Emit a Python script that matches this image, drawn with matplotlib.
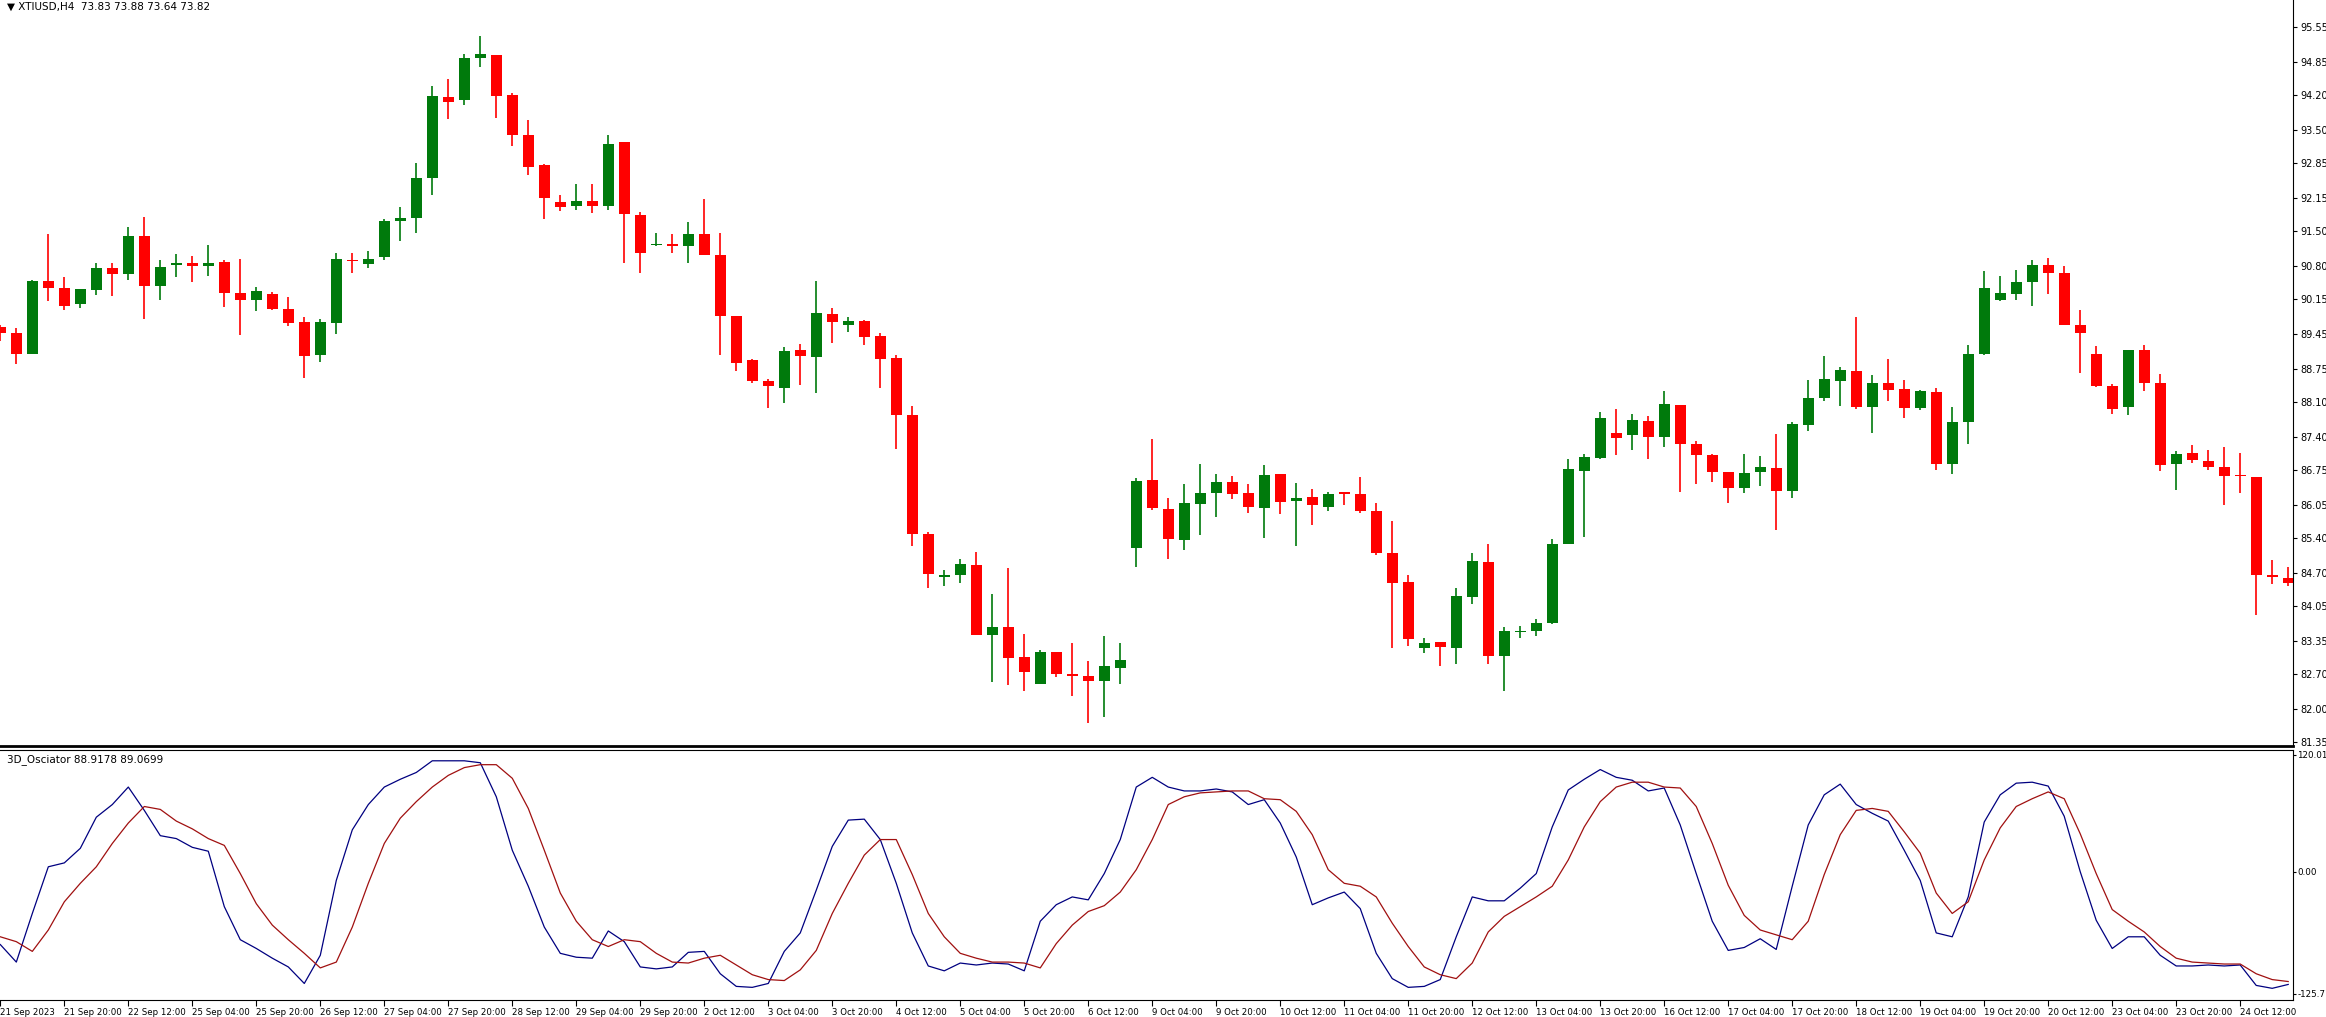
import matplotlib
matplotlib.use("Agg")
import matplotlib.pyplot as plt
import numpy as np

opens = [89.60,89.48,89.05,90.51,90.37,90.06,90.32,90.77,90.64,91.41,90.41,90.83,90.87,90.81,90.88,90.26,90.14,90.25,89.95,89.70,
         89.03,89.68,90.92,90.85,90.98,91.70,91.75,92.55,94.17,94.10,94.93,95.00,94.20,93.41,92.81,92.08,91.99,92.10,92.00,93.27,
         91.82,91.22,91.23,91.20,91.45,91.02,89.82,88.94,88.52,88.39,89.13,88.99,89.85,89.63,89.71,89.41,88.98,87.84,85.49,84.63,
         84.66,84.87,83.48,83.64,83.03,82.50,83.14,82.71,82.66,82.56,82.82,85.21,86.55,85.98,85.37,86.07,86.29,86.51,86.30,85.99,
         86.67,86.14,86.21,86.02,86.30,86.28,85.94,85.11,84.52,83.21,83.33,83.21,84.23,84.93,83.05,83.53,83.56,83.72,85.29,86.73,
         87.00,87.49,87.44,87.73,87.40,88.04,87.27,87.05,86.71,86.39,86.71,86.80,86.34,87.64,88.18,88.53,88.72,88.01,88.48,88.36,
         87.98,88.30,86.87,87.71,89.06,90.14,90.25,90.49,90.82,90.66,89.63,89.05,88.42,88.00,89.13,88.49,86.87,87.09,86.94,86.81,
         86.65,86.61,84.65,84.61]
highs = [89.63,89.58,90.53,91.44,90.59,90.35,90.87,90.87,91.58,91.78,90.92,91.05,91.00,91.23,90.92,90.95,90.39,90.28,90.18,89.79,
         89.75,91.07,91.06,91.10,91.74,91.98,92.85,94.38,94.52,95.01,95.38,95.00,94.24,93.70,92.84,92.21,92.43,92.43,93.41,93.27,
         91.88,91.47,91.44,91.67,92.14,91.47,89.82,88.96,88.57,89.20,89.25,90.51,89.97,89.80,89.73,89.47,89.04,88.03,85.53,84.77,
         84.98,85.12,84.28,84.81,83.50,83.17,83.14,83.31,82.96,83.45,83.32,86.59,87.37,86.19,86.48,86.87,86.67,86.64,86.48,86.86,
         86.67,86.50,86.38,86.32,86.30,86.61,86.10,85.73,84.66,83.42,83.33,84.40,85.11,85.28,83.63,83.65,83.79,85.38,86.97,87.07,
         87.90,87.97,87.86,87.83,88.33,88.04,87.33,87.07,86.71,87.07,87.04,87.46,87.71,88.54,89.01,88.79,89.80,88.65,88.96,88.54,
         88.35,88.39,88.01,89.23,90.70,90.60,90.72,90.92,90.96,90.80,89.93,89.22,88.46,89.13,89.23,88.66,87.14,87.25,87.16,87.21,
         87.09,86.61,84.97,84.83]
lows = [89.32,88.85,89.05,90.12,89.94,89.98,90.22,90.20,90.52,89.76,90.13,90.58,90.48,90.61,90.00,89.43,89.92,89.93,89.61,88.58,
        88.89,89.45,90.66,90.77,90.93,91.31,91.47,92.22,93.73,94.01,94.75,93.75,93.18,92.62,91.73,91.89,91.91,91.85,91.91,90.86,
        90.67,91.21,91.07,90.87,91.02,89.03,88.71,88.49,87.99,88.09,88.44,88.28,89.27,89.50,89.23,88.38,87.18,85.24,84.40,84.45,
        84.50,83.47,82.55,82.49,82.36,82.50,82.65,82.27,81.72,81.84,82.50,84.82,85.95,84.99,85.16,85.47,85.81,86.17,85.89,85.41,
        85.87,85.24,85.66,85.94,86.06,85.90,85.07,83.22,83.26,83.11,82.86,82.90,84.10,82.90,82.36,83.41,83.45,83.69,85.28,85.43,
        86.97,87.05,87.16,86.97,87.20,86.32,86.47,86.51,86.09,86.30,86.43,85.57,86.19,87.52,88.13,88.03,87.97,87.48,88.13,87.78,
        87.94,86.76,86.67,87.26,89.04,90.12,90.14,90.01,90.25,89.63,88.68,88.41,87.86,87.84,88.32,86.73,86.35,86.90,86.76,86.05,
        86.29,83.88,84.48,84.45]
closes = [89.48,89.05,90.51,90.36,90.02,90.35,90.77,90.64,91.41,90.40,90.79,90.85,90.81,90.87,90.26,90.14,90.30,89.96,89.68,89.01,
          89.70,90.95,90.90,90.94,91.69,91.76,92.55,94.19,94.06,94.93,95.01,94.19,93.40,92.78,92.15,91.97,92.10,92.00,93.23,91.83,
          91.07,91.24,91.21,91.44,91.02,89.82,88.87,88.52,88.42,89.11,89.01,89.87,89.69,89.71,89.40,88.95,87.85,85.48,84.69,84.66,
          84.88,83.47,83.64,83.01,82.74,83.14,82.70,82.66,82.56,82.85,82.98,86.53,85.99,85.39,86.09,86.30,86.51,86.27,86.01,86.66,
          86.11,86.19,86.06,86.27,86.28,85.93,85.11,84.50,83.39,83.32,83.23,84.25,84.95,83.05,83.56,83.55,83.71,85.29,86.78,87.02,
          87.78,87.38,87.75,87.40,88.06,87.27,87.05,86.72,86.39,86.70,86.81,86.34,87.67,88.19,88.57,88.74,88.01,88.49,88.35,87.98,
          88.32,86.87,87.71,89.06,90.36,90.27,90.49,90.82,90.66,89.63,89.48,88.43,87.97,89.13,88.49,86.86,87.08,86.95,86.82,86.63,
          86.63,84.67,84.63,84.50]

osc_fast = [-75,-93,-43,5,9,24,56,69,87,63,37,34,25,21,-36,-70,-79,-89,-98,-115,
            -86,-9,43,69,87,95,102,114,114,114,112,77,22,-15,-57,-84,-88,-89,-61,-72,
            -98,-100,-98,-83,-82,-105,-118,-119,-115,-82,-63,-19,26,53,54,33,-12,-63,-97,-102,
            -94,-96,-94,-95,-102,-51,-34,-26,-29,-2,33,87,97,
            87,83,83,85,82,69,74,50,15,-34,-27,-21,-38,-84,-110,-119,-118,-111,-67,-26,
            -30,-30,-17,-2,46,84,95,105,97,94,83,86,48,-2,-51,-81,-78,-69,-80,-15,
            48,79,90,69,60,52,22,-9,-63,-67,-26,51,79,91,92,88,57,0,-50,-79,
            -67,-67,-86,-97,-97,-96,-97,-96,-117,-120,-116]
osc_slow = [-67,-72,-82,-60,-31,-12,5,29,50,67,64,52,44,34,27,-2,-33,-55,-70,-84,
            -99,-93,-57,-12,29,55,72,87,99,107,110,110,96,65,22,-22,-51,-70,-77,-70,
            -72,-84,-93,-94,-89,-86,-96,-106,-111,-112,-101,-81,-43,-12,17,33,33,-3,-43,-67,
            -84,-89,-93,-93,-94,-99,-74,-55,-41,-35,-21,2,33,
            69,77,81,82,83,83,75,74,62,38,2,-12,-15,-26,-53,-77,-98,-106,-110,-94,
            -62,-46,-36,-26,-15,12,46,72,87,92,92,87,86,67,29,-14,-45,-60,-65,-70,
            -51,-3,38,63,65,62,41,19,-22,-43,-31,12,45,67,75,82,75,39,-2,-39,
            -51,-62,-77,-89,-93,-94,-95,-95,-105,-111,-113]

date_labels = ["21 Sep 2023","21 Sep 20:00","22 Sep 12:00","25 Sep 04:00","25 Sep 20:00","26 Sep 12:00",
               "27 Sep 04:00","27 Sep 20:00","28 Sep 12:00","29 Sep 04:00","29 Sep 20:00","2 Oct 12:00",
               "3 Oct 04:00","3 Oct 20:00","4 Oct 12:00","5 Oct 04:00","5 Oct 20:00","6 Oct 12:00",
               "9 Oct 04:00","9 Oct 20:00","10 Oct 12:00","11 Oct 04:00","11 Oct 20:00","12 Oct 12:00",
               "13 Oct 04:00","13 Oct 20:00","16 Oct 12:00","17 Oct 04:00","17 Oct 20:00","18 Oct 12:00",
               "19 Oct 04:00","19 Oct 20:00","20 Oct 12:00","23 Oct 04:00","23 Oct 20:00","24 Oct 12:00"]
price_ticks = [95.55,94.85,94.20,93.50,92.85,92.15,91.50,90.80,90.15,89.45,88.75,88.10,87.40,86.75,86.05,
               85.40,84.70,84.05,83.35,82.70,82.00,81.35]
osc_ticks = [120.01,0.00,-125.71]

plt.rcParams['font.family'] = ['DejaVu Sans']

W, H = 2326, 1017
fig = plt.figure(figsize=(W/100, H/100), dpi=100)
right = 2293/W
ax = fig.add_axes([0, 1-746/H, right, 746/H])
ax2 = fig.add_axes([0, 1-1000/H, right, 250/H])

n = len(opens)
x = np.arange(n)
GREEN, RED = "#007A0C", "#FF0000"
for i in range(n):
    o, h, l, c = opens[i], highs[i], lows[i], closes[i]
    col = GREEN if c >= o else RED
    ax.vlines(x[i], l, h, color=col, lw=1.2, zorder=1)
    b = max(abs(c-o), 0.03)
    ax.bar(x[i], b, bottom=min(o, c), width=0.68, color=col, lw=0, zorder=2)

xl = (-0.02, 143.3)
ax.set_xlim(*xl)
ax.set_ylim(81.27, 96.09)
ax.yaxis.tick_right()
ax.set_yticks(price_ticks)
ax.set_yticklabels([f"{t:.2f}" for t in price_ticks], fontsize=7)
ax.set_xticks([])
for s in ["top", "left"]:
    ax.spines[s].set_visible(False)
ax.spines["bottom"].set_linewidth(2)
ax.tick_params(axis="y", length=3, pad=2)
ax.text(0.003, 0.997, "\u25BC XTIUSD,H4  73.83 73.88 73.64 73.82", transform=ax.transAxes,
        fontsize=7.5, va="top", ha="left")

ax2.plot(x, osc_fast, color="#000080", lw=0.9)
ax2.plot(x, osc_slow, color="#A01010", lw=0.9)
ax2.set_xlim(*xl)
ax2.set_ylim(-132.0, 125.1)
ax2.yaxis.tick_right()
ax2.set_yticks(osc_ticks)
ax2.set_yticklabels(["120.01", "0.00", "-125.71"], fontsize=6.3)
ax2.tick_params(axis="y", length=2, pad=1)
ticks = np.arange(0, n, 4)[:len(date_labels)]
ax2.set_xticks(ticks)
ax2.set_xticklabels(date_labels, fontsize=6.2, ha="left")
ax2.tick_params(axis="x", length=4, pad=2)
ax2.spines["left"].set_visible(False)
ax2.text(0.003, 0.985, "3D_Osciator 88.9178 89.0699", transform=ax2.transAxes,
         fontsize=7.5, va="top", ha="left")

fig.savefig("out.png", dpi=100)
